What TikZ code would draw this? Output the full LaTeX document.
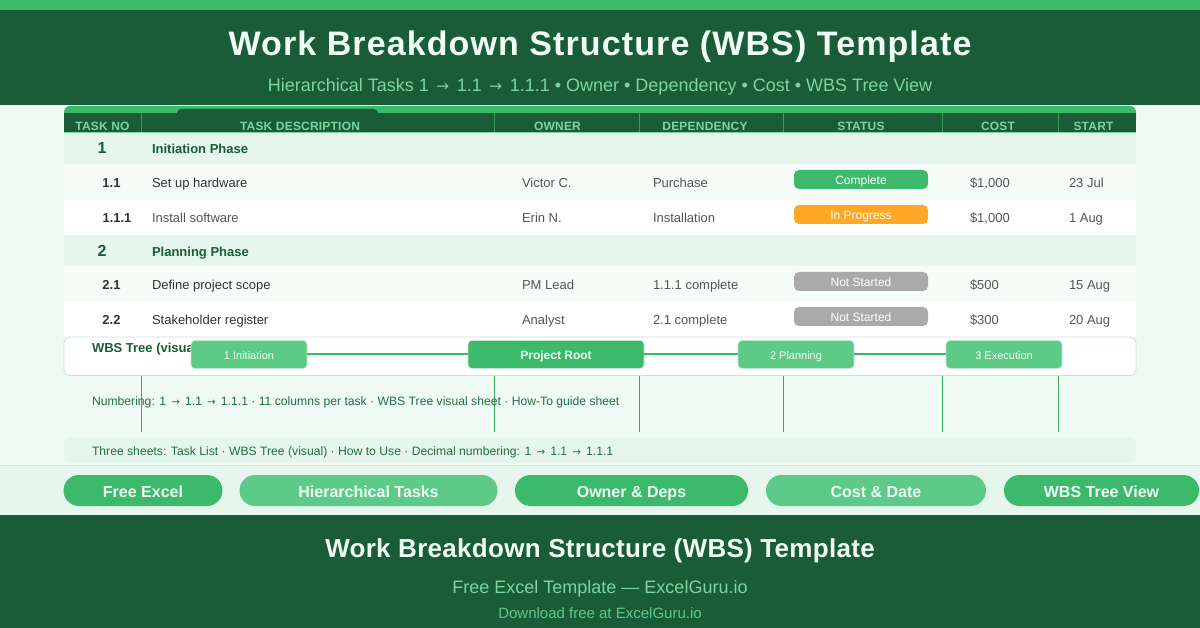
\documentclass[tikz,border=0pt]{standalone}
\usepackage{fontspec}
\setmainfont{Liberation Sans}
\newfontfamily\arrowfont{DejaVu Sans}
\definecolor{dark}{HTML}{1A5C38}
\definecolor{mid}{HTML}{3CB96A}
\definecolor{soft}{HTML}{5DCB87}
\definecolor{pale}{HTML}{7DD4A0}
\definecolor{bg}{HTML}{F0FAF4}
\definecolor{band}{HTML}{E6F6ED}
\definecolor{rowa}{HTML}{F6FDF9}
\definecolor{edge}{HTML}{C0E8D0}
\definecolor{ink}{HTML}{333333}
\definecolor{inkb}{HTML}{555555}
\definecolor{cream}{HTML}{F0FFF5}
\definecolor{amber}{HTML}{FFA726}
\definecolor{stone}{HTML}{AAAAAA}
\newcommand{\fs}[1]{\fontsize{#1}{#1}\selectfont}
\newcommand{\ar}{\makebox[1em][c]{\arrowfont\scalebox{.85}{→}}}
\tikzset{
  x=1pt,y=-1pt,
  txt/.style={inner sep=0pt,outer sep=0pt,anchor=base west},
  ctr/.style={inner sep=0pt,outer sep=0pt,anchor=base},
  head/.style={ctr,text=pale,font=\bfseries\fs{12}\addfontfeatures{LetterSpace=1.7}},
  phasenum/.style={ctr,text=dark,font=\bfseries\fs{16}},
  phasename/.style={txt,text=dark,font=\bfseries\fs{13}},
  num/.style={ctr,text=ink,font=\bfseries\fs{13}},
  cell/.style={txt,text=inkb,font=\fs{13}},
  badge/.style={rounded corners=5pt,minimum width=134pt,minimum height=19pt,inner sep=0pt,text=white,font=\fs{12},text height=10pt,text depth=0pt,anchor=center},
  treebox/.style={rounded corners=4pt,minimum height=28pt,inner sep=0pt,draw=edge,line width=.6pt,text=cream,text height=9.5pt,text depth=0pt,anchor=center},
  pill/.style={rounded corners=15.5pt,minimum height=31pt,inner sep=0pt,text=cream,font=\bfseries\fs{16},text height=13pt,text depth=0pt,anchor=center},
  treeline/.style={draw=mid,line width=2pt},
  note/.style={txt,text=dark!80!mid,font=\fs{12.17}}
}
\begin{document}
\begin{tikzpicture}
\useasboundingbox (0,0) rectangle (1200,628);
\fill[bg] (0,0) rectangle (1200,628);
% top banner
\fill[dark] (0,0) rectangle (1200,105.5);
\fill[mid] (0,0) rectangle (1200,10);
\node[ctr,text=cream,font=\bfseries\fs{34}\addfontfeatures{LetterSpace=3.25}] (title) at (600,56) {Work Breakdown Structure (WBS) Template};
\node[ctr,text=pale,font=\fs{18}] (subtitle) at (600,91.5) {Hierarchical Tasks 1 \ar{} 1.1 \ar{} 1.1.1 • Owner • Dependency • Cost • WBS Tree View};
% table header
\fill[mid,rounded corners=6pt] (64,125) -- (64,106) -- (1136,106) -- (1136,125) -- cycle;
\fill[dark] (64,113) rectangle (1136,132);
\fill[dark,rounded corners=4pt] (177,120) -- (177,109) -- (378,109) -- (378,120) -- cycle;
\foreach \c in {141,494,639,783,942,1058}{\draw[mid!70!dark,line width=.8pt] (\c,113) -- (\c,132);}
\node[head] (h1) at (102.5,131) {TASK NO};
\node[head] (h2) at (300,131) {TASK DESCRIPTION};
\node[head] (h3) at (557.5,131) {OWNER};
\node[head] (h4) at (705,131) {DEPENDENCY};
\node[head] (h5) at (861,131) {STATUS};
\node[head] (h6) at (998,131) {COST};
\node[head] (h7) at (1093.5,131) {START};
% rows
\fill[band] (64,132) rectangle (1136,164);
\fill[rowa] (64,164) rectangle (1136,200);
\fill[white] (64,200) rectangle (1136,235);
\fill[band] (64,235) rectangle (1136,266);
\fill[rowa] (64,266) rectangle (1136,302);
\fill[white] (64,302) rectangle (1136,337);
\draw[pale,line width=.6pt] (64,132) -- (1136,132);
\node[phasenum] (p1) at (102,154) {1};
\node[phasename] (p1n) at (152,154) {Initiation Phase};
\node[phasenum] (p2) at (102,256.5) {2};
\node[phasename] (p2n) at (152,256.5) {Planning Phase};
% row 1.1
\node[num] (n11) at (111.5,188) {1.1};
\node[cell,text=ink] (d11) at (152,188) {Set up hardware};
\node[cell] (o11) at (522,188) {Victor C.};
\node[cell] (e11) at (653,188) {Purchase};
\node[badge,fill=mid] (s11) at (861,179.5) {Complete};
\node[cell] (c11) at (970,188) {\$1,000};
\node[cell] (t11) at (1069,188) {23 Jul};
% row 1.1.1
\node[num] (n111) at (117,223) {1.1.1};
\node[cell] (d111) at (152,223) {Install software};
\node[cell] (o111) at (522,223) {Erin N.};
\node[cell] (e111) at (653,223) {Installation};
\node[badge,fill=amber] (s111) at (861,214.5) {In Progress};
\node[cell] (c111) at (970,223) {\$1,000};
\node[cell] (t111) at (1069,223) {1 Aug};
% row 2.1
\node[num] (n21) at (111.5,290) {2.1};
\node[cell,text=ink] (d21) at (152,290) {Define project scope};
\node[cell] (o21) at (522,290) {PM Lead};
\node[cell] (e21) at (653,290) {1.1.1 complete};
\node[badge,fill=stone] (s21) at (861,281.5) {Not Started};
\node[cell] (c21) at (970,290) {\$500};
\node[cell] (t21) at (1069,290) {15 Aug};
% row 2.2
\node[num] (n22) at (111.5,325) {2.2};
\node[cell,text=ink] (d22) at (152,325) {Stakeholder register};
\node[cell] (o22) at (522,325) {Analyst};
\node[cell] (e22) at (653,325) {2.1 complete};
\node[badge,fill=stone] (s22) at (861,316.5) {Not Started};
\node[cell] (c22) at (970,325) {\$300};
\node[cell] (t22) at (1069,325) {20 Aug};
% WBS tree panel
\draw[edge,fill=white,line width=.8pt,rounded corners=6pt] (64,337) rectangle (1136,375.5);
\node[txt,text=dark,font=\bfseries\fs{13}] (treetitle) at (92,353) {WBS Tree (visual)};
\node[treebox,fill=soft,minimum width=116pt,font=\fs{11}] (t1) at (249,354.5) {1 Initiation};
\node[treebox,fill=mid,minimum width=176pt,font=\bfseries\fs{12}] (root) at (556,354.5) {Project Root};
\node[treebox,fill=soft,minimum width=116pt,font=\fs{11}] (t2) at (796,354.5) {2 Planning};
\node[treebox,fill=soft,minimum width=116pt,font=\fs{11}] (t3) at (1004,354.5) {3 Execution};
\draw[treeline] (t1) -- (root);
\draw[treeline] (root) -- (t2);
\draw[treeline] (t2) -- (t3);
% stray verticals
\foreach \c/\w in {141/1,494/1,639/.9,783/.9,942/.9,1058/.9}{
  \coordinate (va\c) at (\c,376); \coordinate (vb\c) at (\c,432);
  \draw[mid!85!dark,line width=\w pt] (va\c) -- (vb\c);}
\node[note] (note1) at (92,405.5) {Numbering: 1 \ar{} 1.1 \ar{} 1.1.1 · 11 columns per task · WBS Tree visual sheet · How-To guide sheet};
% note band
\fill[band,rounded corners=6pt] (64,437) rectangle (1136,463);
\node[note] (note2) at (92,455) {Three sheets: Task List · WBS Tree (visual) · How to Use · Decimal numbering: 1 \ar{} 1.1 \ar{} 1.1.1};
% pill strip
\fill[band] (0,465) rectangle (1200,515);
\draw[edge,line width=1.5pt] (0,465.5) -- (1200,465.5);
\node[pill,fill=mid,minimum width=159pt] (b1) at (143,490.5) {Free Excel};
\node[pill,fill=soft,minimum width=258pt] (b2) at (368.5,490.5) {Hierarchical Tasks};
\node[pill,fill=mid,minimum width=233pt] (b3) at (631.5,490.5) {Owner \& Deps};
\node[pill,fill=soft,minimum width=220pt] (b4) at (876,490.5) {Cost \& Date};
\node[pill,fill=mid,minimum width=195pt] (b5) at (1101.5,490.5) {WBS Tree View};
% footer
\fill[dark] (0,515) rectangle (1200,628);
\node[ctr,text=cream,font=\bfseries\fs{26}\addfontfeatures{LetterSpace=1.15}] (ft1) at (600,557.5) {Work Breakdown Structure (WBS) Template};
\node[ctr,text=pale,font=\fs{18}] (ft2) at (600,593) {Free Excel Template — ExcelGuru.io};
\node[ctr,text=soft,font=\fs{15}] (ft3) at (600,618) {Download free at ExcelGuru.io};
\end{tikzpicture}
\end{document}
